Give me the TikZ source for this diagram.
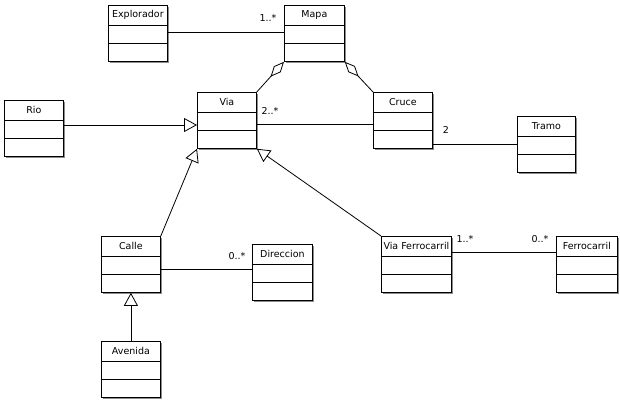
\documentclass[tikz,border=0pt]{standalone}
\usepackage{fontspec}
\setmainfont{DejaVu Sans}
\usetikzlibrary{arrows.meta,calc,shadows}
\tikzset{
  clsbox/.style={draw, fill=white, line width=0.8pt, minimum height=56pt, inner sep=0pt,
    drop shadow={shadow xshift=1.2pt, shadow yshift=-1.2pt, fill=black!45, opacity=1}},
  clstext/.style={font=\fontsize{9.5}{11}\selectfont, inner sep=0pt},
  mult/.style={font=\fontsize{9.5}{11}\selectfont, inner sep=0pt},
  assoc/.style={line width=0.8pt},
  gen/.style={line width=0.8pt, -{Triangle[open, length=13pt, width=14pt]}},
  aggr/.style={line width=0.8pt, -{Diamond[open, length=20pt, width=9pt]}},
}
\newcommand{\classbox}[5]{%
  \node[clsbox, minimum width=#4pt, anchor=north west] (#1) at (#2,#3) {};
  \node[clstext] (#1-t) at ($(#1.north)+(0,10)$) {#5};
  \draw[line width=0.8pt] ($(#1.north west)+(0,20)$) -- ($(#1.north east)+(0,20)$);
  \draw[line width=0.8pt] ($(#1.north west)+(0,38)$) -- ($(#1.north east)+(0,38)$);
}
\begin{document}
\begin{tikzpicture}[x=1pt,y=-1pt]
\useasboundingbox (0,0) rectangle (620,401);
\classbox{expl}{108}{5}{59}{Explorador}
\classbox{mapa}{284}{5}{60}{Mapa}
\classbox{via}{197}{92}{59}{Via}
\classbox{cruce}{373}{92}{59}{Cruce}
\classbox{rio}{4}{100}{59}{Rio}
\classbox{tramo}{517}{116}{58}{Tramo}
\classbox{calle}{101}{236}{59}{Calle}
\classbox{dir}{252}{244}{60}{Direccion}
\classbox{vf}{381}{236}{70}{Via Ferrocarril}
\classbox{ferro}{556}{236}{61}{Ferrocarril}
\classbox{aven}{101}{341}{59}{Avenida}

% associations
\draw[assoc] (expl.east |- 0,32) -- (mapa.west |- 0,32);
\draw[assoc] (via.east |- 0,124) -- (cruce.west |- 0,124);
\draw[assoc] (cruce.east |- 0,144) -- (tramo.west |- 0,144);
\draw[assoc] (calle.east |- 0,269) -- (dir.west |- 0,269);
\draw[assoc] (vf.east |- 0,252) -- (ferro.west |- 0,252);

% aggregations
\draw[aggr] (via.north east) -- (mapa.south west);
\draw[aggr] (cruce.north west) -- (mapa.south east);

% generalizations
\draw[gen] (rio.east |- 0,125) -- (via.west |- 0,125);
\draw[gen] (calle.north east) -- (via.south west);
\draw[gen] (vf.north west) -- (via.south east);
\draw[gen] (aven.north) -- (calle.south);

% multiplicities
\node[mult] (m1) at (268,18) {1..*};
\node[mult] (m2) at (270,111) {2..*};
\node[mult] (m3) at (446,130) {2};
\node[mult] (m4) at (237,256) {0..*};
\node[mult] (m5) at (465,239) {1..*};
\node[mult] (m6) at (540,239) {0..*};
\end{tikzpicture}
\end{document}
